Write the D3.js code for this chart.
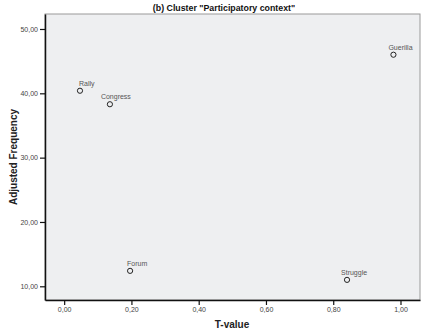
<!DOCTYPE html>
<html>
<head>
<meta charset="utf-8">
<script src="https://cdn.jsdelivr.net/npm/d3@7"></script>
<style>
  body { margin: 0; background: #fff; }
  text { font-family: Arial, "Liberation Sans", sans-serif; }
</style>
</head>
<body>
<svg id="chart" width="423" height="335"></svg>
<script>
var names = ["Rally", "Congress", "Guerilla", "Forum", "Struggle"];
var tValues = [0.047, 0.136, 0.979, 0.196, 0.841];
var frequencies = [40.4, 38.3, 46.0, 12.4, 11.0];
var xTicks = [0, 0.2, 0.4, 0.6, 0.8, 1.0];
var yTicks = [10, 20, 30, 40, 50];

var width = 423, height = 335;
var margin = { top: 14, right: 3, bottom: 35, left: 45 };
var svg = d3.select("#chart");

var x = d3.scaleLinear()
    .domain([-0.057, 1.058])
    .range([margin.left, width - margin.right]);
var y = d3.scaleLinear()
    .domain([7.87, 52.33])
    .range([height - margin.bottom, margin.top]);

var fmt = function(d) { return d3.format(".2f")(d).replace(".", ","); };

// plot background
svg.append("rect")
    .attr("x", margin.left)
    .attr("y", margin.top)
    .attr("width", width - margin.left - margin.right)
    .attr("height", height - margin.top - margin.bottom)
    .attr("fill", "#eeeff1")
    .attr("stroke", "#9a9a9a")
    .attr("stroke-width", 1);

var xAxis = svg.append("g")
    .attr("transform", "translate(0," + (height - margin.bottom) + ")")
    .call(d3.axisBottom(x).tickValues(xTicks).tickFormat(fmt).tickSize(5).tickSizeOuter(0));
var yAxis = svg.append("g")
    .attr("transform", "translate(" + margin.left + ",0)")
    .call(d3.axisLeft(y).tickValues(yTicks).tickFormat(fmt).tickSize(5).tickSizeOuter(0));

[xAxis, yAxis].forEach(function(a) {
    a.select(".domain").attr("stroke", "#111").attr("stroke-width", 1.5);
    a.selectAll(".tick line").attr("stroke", "#111").attr("stroke-width", 1.2);
    a.selectAll(".tick text")
        .attr("fill", "#444")
        .style("font-size", "7px")
        .style("font-family", "Arial, 'Liberation Sans', sans-serif");
});
xAxis.selectAll(".tick text").attr("dy", "0.9em").attr("y", 6);
yAxis.selectAll(".tick text").attr("x", -7);

// points
var pts = names.map(function(n, i) {
    return { name: n, t: tValues[i], f: frequencies[i] };
});
var labelShift = { Rally: -1, Congress: -9, Guerilla: -5, Forum: -3, Struggle: -6 };

svg.selectAll("circle.pt")
    .data(pts)
    .enter()
    .append("circle")
    .attr("class", "pt")
    .attr("cx", function(d) { return x(d.t); })
    .attr("cy", function(d) { return y(d.f); })
    .attr("r", 2.6)
    .attr("fill", "#eeeff1")
    .attr("stroke", "#222")
    .attr("stroke-width", 1);

svg.selectAll("text.lbl")
    .data(pts)
    .enter()
    .append("text")
    .attr("class", "lbl")
    .attr("x", function(d) { return x(d.t) + labelShift[d.name]; })
    .attr("y", function(d) { return y(d.f) - 5; })
    .attr("fill", "#555")
    .style("font-size", "7px")
    .text(function(d) { return d.name; });

// title and axis labels
svg.append("text")
    .attr("x", 224)
    .attr("y", 10.5)
    .attr("text-anchor", "middle")
    .style("font-size", "8.8px")
    .style("font-weight", "bold")
    .attr("fill", "#111")
    .text('(b) Cluster "Participatory context"');

svg.append("text")
    .attr("x", 232)
    .attr("y", 328)
    .attr("text-anchor", "middle")
    .style("font-size", "10px")
    .style("font-weight", "bold")
    .attr("fill", "#222")
    .text("T-value");

svg.append("text")
    .attr("transform", "translate(17," + ((margin.top + height - margin.bottom) / 2) + ") rotate(-90)")
    .attr("text-anchor", "middle")
    .style("font-size", "10px")
    .style("font-weight", "bold")
    .attr("fill", "#222")
    .text("Adjusted Frequency");
</script>
</body>
</html>
